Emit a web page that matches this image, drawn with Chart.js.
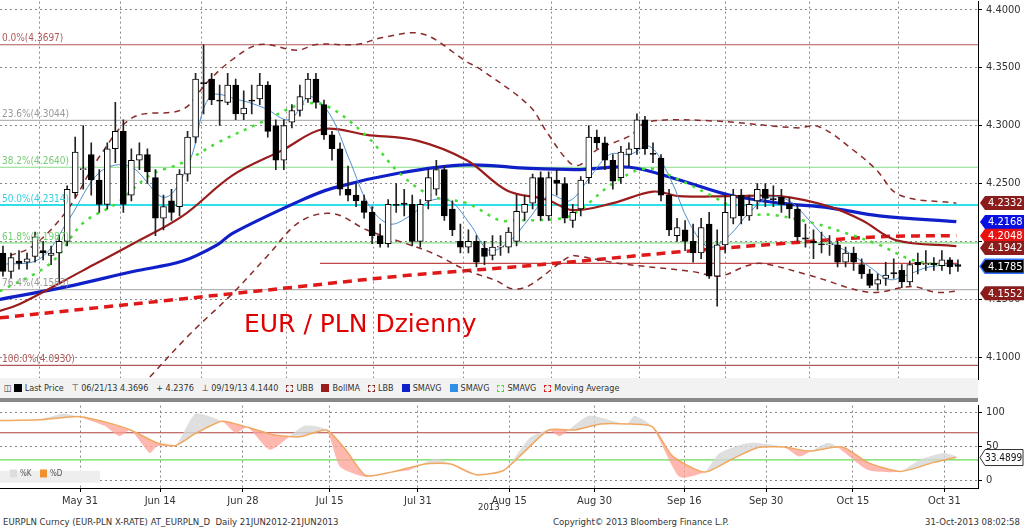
<!DOCTYPE html>
<html><head><meta charset="utf-8">
<script src="https://cdn.jsdelivr.net/npm/chart.js@4.4.1/dist/chart.umd.min.js"></script>
<style>
body{margin:0;background:#fff;font-family:"DejaVu Sans Condensed","DejaVu Sans",sans-serif;width:1024px;height:530px;overflow:hidden;position:relative}
canvas{position:absolute;left:0}
.t{position:absolute;font-size:9.5px;color:#333;white-space:nowrap}
#legend{position:absolute;left:0;top:378px;width:978px;height:20px;background:#f2f2f2;font-size:9px;color:#333;line-height:20px;padding-left:4px;box-sizing:border-box}
#sep{position:absolute;left:0;top:398px;width:978px;height:4px;background:#888}
.sw{display:inline-block;width:8px;height:8px;margin:0 3px 0 8px;vertical-align:-1px}
</style></head><body>
<canvas id="main" width="1024" height="399" style="top:-9px"></canvas>
<div id="legend"></div><div id="sep"></div>
<canvas id="low" width="1024" height="119" style="top:395px"></canvas>
<div class="t" style="left:244px;top:309px;font-size:25px;color:#e00000;font-family:'DejaVu Sans',sans-serif">EUR / PLN Dzienny</div>
<div class="t" style="left:478px;top:501px">2013</div>
<div class="t" style="left:3px;top:516px">EURPLN Curncy (EUR-PLN X-RATE) AT_EURPLN_D&nbsp; Daily 21JUN2012-21JUN2013</div>
<div class="t" style="left:553px;top:516px">Copyright© 2013 Bloomberg Finance L.P.</div>
<div class="t" style="left:925px;top:516px">31-Oct-2013 08:02:58</div>
<script>
// ---- data ----
const opens=[4.190,4.174,4.183,4.182,4.187,4.192,4.188,4.190,4.200,4.242,4.262,4.275,4.253,4.232,4.280,4.295,4.240,4.270,4.275,4.255,4.220,4.235,4.230,4.258,4.290,4.337,4.340,4.322,4.320,4.335,4.310,4.322,4.323,4.335,4.300,4.270,4.303,4.313,4.323,4.340,4.318,4.292,4.280,4.245,4.240,4.235,4.225,4.205,4.198,4.232,4.233,4.232,4.200,4.235,4.245,4.262,4.228,4.200,4.195,4.200,4.194,4.188,4.195,4.195,4.200,4.225,4.233,4.255,4.222,4.253,4.250,4.218,4.228,4.255,4.290,4.285,4.270,4.255,4.275,4.280,4.305,4.276,4.272,4.240,4.205,4.210,4.200,4.190,4.215,4.170,4.197,4.220,4.240,4.222,4.235,4.245,4.237,4.238,4.232,4.228,4.203,4.200,4.198,4.197,4.197,4.182,4.190,4.180,4.172,4.163,4.168,4.173,4.175,4.165,4.182,4.180,4.181,4.179,4.184,4.180];
const closes=[4.174,4.186,4.181,4.185,4.204,4.190,4.190,4.200,4.245,4.277,4.262,4.253,4.232,4.280,4.295,4.232,4.270,4.275,4.260,4.220,4.230,4.225,4.258,4.290,4.340,4.336,4.322,4.321,4.335,4.310,4.315,4.321,4.335,4.295,4.270,4.300,4.313,4.325,4.340,4.320,4.292,4.280,4.245,4.240,4.235,4.225,4.205,4.198,4.232,4.231,4.232,4.200,4.232,4.255,4.262,4.222,4.210,4.195,4.200,4.182,4.187,4.195,4.196,4.208,4.226,4.232,4.255,4.222,4.255,4.250,4.220,4.225,4.253,4.290,4.285,4.270,4.252,4.277,4.280,4.305,4.280,4.275,4.240,4.210,4.212,4.200,4.190,4.212,4.170,4.197,4.225,4.240,4.222,4.232,4.245,4.237,4.236,4.232,4.228,4.204,4.202,4.199,4.197,4.197,4.182,4.190,4.182,4.172,4.162,4.167,4.171,4.172,4.165,4.180,4.180,4.180,4.180,4.184,4.178,4.1785];
const highs=[4.196,4.190,4.192,4.190,4.208,4.200,4.196,4.205,4.248,4.290,4.300,4.285,4.262,4.285,4.320,4.305,4.280,4.285,4.280,4.262,4.240,4.245,4.262,4.295,4.345,4.3697,4.345,4.335,4.345,4.340,4.330,4.335,4.345,4.338,4.305,4.305,4.318,4.335,4.345,4.345,4.322,4.295,4.285,4.265,4.250,4.240,4.230,4.215,4.236,4.250,4.245,4.240,4.236,4.262,4.270,4.265,4.235,4.215,4.210,4.205,4.200,4.205,4.205,4.212,4.240,4.240,4.258,4.260,4.260,4.262,4.255,4.232,4.256,4.300,4.296,4.290,4.275,4.282,4.285,4.310,4.308,4.285,4.275,4.245,4.220,4.218,4.215,4.220,4.225,4.210,4.240,4.245,4.245,4.240,4.250,4.250,4.248,4.245,4.238,4.232,4.215,4.210,4.208,4.205,4.200,4.195,4.195,4.185,4.176,4.172,4.182,4.185,4.180,4.183,4.190,4.192,4.186,4.192,4.186,4.184];
const lows=[4.170,4.168,4.176,4.176,4.182,4.184,4.180,4.165,4.196,4.238,4.245,4.240,4.225,4.228,4.268,4.225,4.235,4.262,4.250,4.205,4.210,4.218,4.222,4.252,4.285,4.310,4.318,4.300,4.318,4.305,4.305,4.310,4.318,4.290,4.262,4.262,4.298,4.308,4.320,4.315,4.288,4.270,4.240,4.235,4.230,4.220,4.198,4.195,4.195,4.225,4.222,4.196,4.195,4.228,4.240,4.218,4.205,4.190,4.190,4.178,4.180,4.184,4.188,4.190,4.196,4.218,4.228,4.218,4.218,4.240,4.216,4.212,4.222,4.250,4.280,4.262,4.245,4.250,4.265,4.275,4.275,4.268,4.235,4.205,4.200,4.192,4.182,4.185,4.168,4.144,4.190,4.215,4.215,4.218,4.228,4.230,4.230,4.225,4.220,4.200,4.195,4.185,4.190,4.188,4.178,4.178,4.175,4.168,4.160,4.158,4.162,4.168,4.160,4.162,4.172,4.175,4.175,4.175,4.172,4.174];
// overlay lines: [index, value]
const smaLong=[[-0.4,4.150],[8,4.161],[16.2,4.174],[22.4,4.183],[26.7,4.197],[28.6,4.207],[37,4.235],[41.1,4.246],[49.4,4.259],[57.8,4.266],[65.6,4.263],[71.9,4.262],[78.1,4.264],[84.3,4.253],[90.5,4.240],[96.8,4.233],[103,4.229],[109.2,4.222],[118.8,4.217]];
const bollMA=[[-0.4,4.140],[2.1,4.146],[10,4.175],[16.2,4.198],[22.4,4.222],[28.6,4.257],[34.9,4.279],[39.9,4.297],[45.3,4.292],[51.6,4.287],[57.8,4.270],[62.8,4.244],[67.8,4.236],[71,4.227],[76,4.233],[81,4.243],[84.3,4.239],[90.5,4.239],[96.8,4.239],[103,4.230],[107.1,4.218],[111.3,4.201],[118.8,4.196]];
const ubb=[[-0.4,4.185],[3.7,4.196],[8,4.227],[12.1,4.274],[16.2,4.307],[22.4,4.314],[25.4,4.337],[28.6,4.357],[32,4.370],[36.6,4.365],[39.1,4.370],[44.1,4.370],[47.3,4.376],[52.3,4.379],[57.8,4.355],[59.4,4.349],[65.6,4.317],[67.8,4.294],[70.6,4.268],[71.9,4.266],[74,4.279],[78.1,4.291],[80.2,4.303],[88.4,4.304],[98.9,4.298],[101.7,4.299],[106.3,4.277],[108.8,4.262],[111.7,4.240],[118.8,4.233]];
const lbb=[[18.3,4.083],[23.3,4.120],[28.6,4.155],[32.9,4.187],[37,4.217],[41.1,4.224],[45.3,4.210],[49.4,4.200],[53.5,4.190],[57.8,4.175],[61.5,4.166],[63.5,4.159],[65.6,4.162],[70.6,4.187],[71.9,4.187],[76.8,4.181],[85.9,4.174],[89.3,4.170],[92.7,4.179],[94.6,4.181],[100.9,4.170],[108,4.156],[113.3,4.161],[116.3,4.156],[118.8,4.157]];
const maRed=[[-0.4,4.134],[20.4,4.149],[37,4.161],[49.4,4.170],[61.9,4.177],[71.9,4.183],[84.3,4.191],[96.8,4.198],[109.2,4.204],[118.8,4.205]];
const smaGreen=[[-0.4,4.157],[5.9,4.181],[10,4.216],[14.2,4.233],[18.3,4.257],[22.4,4.268],[26.7,4.285],[32.9,4.305],[37,4.318],[40.3,4.317],[45.3,4.291],[49.4,4.259],[53.5,4.239],[57.8,4.233],[61.9,4.218],[63.5,4.218],[69.7,4.220],[71.9,4.227],[76,4.250],[80.2,4.263],[84.3,4.253],[88.4,4.239],[92.7,4.224],[95.9,4.223],[100.9,4.216],[105.1,4.207],[109.2,4.197],[113.3,4.184],[118.8,4.178]];
const smaShort=[[-0.4,4.18],[4.6,4.185],[8.3,4.22],[12.1,4.26],[15.8,4.265],[20.2,4.238],[23.3,4.27],[25.8,4.325],[29.5,4.322],[32.6,4.315],[35.7,4.305],[38.2,4.325],[40.7,4.31],[43.2,4.27],[45.7,4.23],[48.2,4.215],[50.7,4.222],[53.2,4.235],[55.7,4.235],[58.2,4.215],[60.6,4.192],[63.1,4.2],[65.6,4.22],[68.1,4.24],[70.6,4.235],[73.1,4.255],[75.6,4.275],[78.1,4.275],[80.6,4.282],[83.1,4.255],[85.6,4.215],[88,4.195],[90.5,4.205],[93,4.225],[95.5,4.238],[98,4.235],[100.5,4.218],[103,4.2],[105.5,4.19],[108,4.178],[110.5,4.167],[113,4.172],[115.4,4.178],[118.8,4.18]];
const stochD=[[-0.4,88],[4.5,89],[9.3,94],[12.7,86],[15.9,74],[19.2,55],[21.5,51],[24,69],[27.3,87],[30.5,78],[33.7,67],[37,64],[40.3,74],[42.7,45],[45.2,7],[48.4,12],[52.6,24],[55.8,24],[59,8],[62.3,14],[64.8,40],[68,74],[71.2,74],[74.5,83],[77.7,83],[80.9,79],[83.4,36],[87.4,12],[90.8,31],[94,48],[97.3,49],[100.5,43],[104.6,49],[107.8,26],[111.8,13],[115.9,26],[118.8,34]];
const stochK=[[-0.4,88],[4.5,90],[7.5,98],[9.3,94],[12.7,80],[14.5,65],[15.9,74],[18.3,40],[19.2,50],[21.5,51],[24,98],[27.3,87],[29,70],[30.5,78],[33.3,45],[37.5,80],[40.3,74],[42,20],[45.2,5],[48.4,12],[50.7,15],[53.8,32],[55.8,24],[58.2,10],[62.3,14],[65.6,62],[68,74],[69.4,65],[73,95],[77.7,83],[78.7,95],[80.9,79],[84.3,5],[87.4,12],[89.3,40],[93,55],[97.3,49],[99.3,35],[103,55],[107.8,15],[111.8,13],[114.2,30],[117.3,40],[118.8,35]];
const fibLevels=[4.3697,4.3044,4.2640,4.2314,4.1987,4.1583,4.0930];
const fibNames=["0.0%","23.6%","38.2%","50.0%","61.8%","76.4%","100.0%"];
const lastPriceLine=4.181;
const boxValues=[4.2332,4.2168,4.2048,4.1942,4.1785,4.1552];
const priceTicks=[4.10,4.15,4.20,4.25,4.30,4.35,4.40];
const dateTickIdx=[9.6,19.6,29.9,40.7,51.7,63.1,73.7,84.9,95.1,105.9,117.3];
const dateLabels=["May 31","Jun 14","Jun 28","Jul 15","Jul 31","Aug 15","Aug 30","Sep 16","Sep 30","Oct 15","Oct 31"];
const stochTicks=[0,50,100];
const stochLast=33.4899;

// ---- styles ----
const FONT='"DejaVu Sans Condensed","DejaVu Sans",sans-serif';
const fibColors=['#b05858','#b4b4b4','#88dd88','#30e0e8','#88dd88','#b4b4b4','#b05858'];
const fibLabelColors=['#b05858','#999','#77cc77','#30d0e0','#77cc77','#999','#b05858'];
const boxColors=['#8b1c1c','#0a10e0','#e81010','#8b1c1c','#000','#8b1c1c'];
const pts=a=>a.map(p=>({x:p[0],y:p[1]}));
const XMIN=-0.37,XMAX=121.5;
const n=opens.length;
const idx=[...Array(n).keys()];
const GRID='#888';

const candlesBody={type:'bar',data:idx.map(i=>({x:i,y:[opens[i],closes[i]]})),
 backgroundColor:idx.map(i=>closes[i]>=opens[i]?'#fff':'#000'),borderColor:'#000',borderWidth:1,
 borderSkipped:false,barThickness:6,grouped:false,minBarLength:1,order:1};
const candlesWick={type:'bar',data:idx.map(i=>({x:i,y:[lows[i],highs[i]]})),
 backgroundColor:'#222',barThickness:1,grouped:false,order:2};
const ln=(data,color,w,dash,order)=>({type:'line',data:pts(data),borderColor:color,borderWidth:w,borderDash:dash||[],pointRadius:0,tension:0.35,fill:false,order:order});

const fibSets=fibLevels.map((v,k)=>({type:'line',data:[{x:XMIN,y:v},{x:XMAX,y:v}],borderColor:fibColors[k],borderWidth:k===3?2:1.2,pointRadius:0,order:10}));
const lastLine={type:'line',data:[{x:39.5,y:lastPriceLine},{x:119,y:lastPriceLine}],borderColor:'#c04848',borderWidth:1.2,pointRadius:0,order:9};

const overlay={id:'ov',afterDraw(c){
 const ctx=c.ctx,y=c.scales.y;
 ctx.save();ctx.font='10px '+FONT;ctx.textBaseline='bottom';
 fibLevels.forEach((v,k)=>{ctx.fillStyle=fibLabelColors[k];ctx.fillText(fibNames[k]+'('+v.toFixed(4)+')',2,y.getPixelForValue(v)-1);});
 ctx.textBaseline='middle';ctx.font='11px '+FONT;
 boxValues.forEach((v,k)=>{const py=y.getPixelForValue(v);const x0=c.chartArea.right+2;
  ctx.fillStyle=boxColors[k];ctx.beginPath();ctx.moveTo(x0,py);ctx.lineTo(x0+5,py-7);ctx.lineTo(1024,py-7);ctx.lineTo(1024,py+7);ctx.lineTo(x0+5,py+7);ctx.closePath();ctx.fill();
  if(k===4){ctx.strokeStyle='#3070ff';ctx.lineWidth=1.5;ctx.stroke();}
  ctx.fillStyle='#fff';ctx.fillText(v.toFixed(4),x0+8,py+0.5);});
 ctx.restore();}};

new Chart(document.getElementById('main'),{data:{datasets:[
 ...fibSets,lastLine,
 ln(maRed,'#e01818',3.5,[9,6],5),
 ln(lbb,'#8b2a2a',1.5,[6,5],4),
 ln(ubb,'#8b2a2a',1.5,[6,5],4),
 ln(bollMA,'#9b1c1c',2.2,null,4),
 ln(smaLong,'#1020c8',3.2,null,4),
 ln(smaGreen,'#44dd33',2.5,[3,6],3),
 ln(smaShort,'#5090d0',1,null,3),
 candlesWick,candlesBody]},
 options:{responsive:false,animation:false,devicePixelRatio:1,events:[],
  layout:{padding:0},
  plugins:{legend:{display:false},tooltip:{enabled:false}},
  scales:{
   x:{type:'linear',min:XMIN,max:XMAX,offset:false,
    afterBuildTicks:s=>{s.ticks=dateTickIdx.map(v=>({value:v}));},
    ticks:{display:false},grid:{color:GRID,drawTicks:false,tickLength:0},border:{display:false,dash:[2,3]},
    afterFit:s=>{s.height=0;}},
   y:{position:'right',min:4.0809,max:4.40696,
    afterBuildTicks:s=>{s.ticks=priceTicks.map(v=>({value:v}));},
    ticks:{callback:v=>v.toFixed(4),color:'#333',font:{size:11,family:FONT},padding:4},
    grid:{color:GRID,tickLength:4,tickColor:'#000'},border:{color:'#000',dash:[2,3]},
    afterFit:s=>{s.width=46;}}}},
 plugins:[overlay]});

// legend
const L=document.getElementById('legend');
L.innerHTML='<span style="font-weight:bold">&#9707;</span><span class="sw" style="background:#000;margin-left:2px"></span>Last Price &nbsp; &#8868; 06/21/13 4.3696 &nbsp; + 4.2376 &nbsp; &#8869; 09/19/13 4.1440'+
 '<span class="sw" style="border:1.5px dashed #8b2a2a;width:5px;height:5px"></span>UBB'+
 '<span class="sw" style="background:#9b1c1c"></span>BollMA'+
 '<span class="sw" style="border:1.5px dashed #8b2a2a;width:5px;height:5px"></span>LBB'+
 '<span class="sw" style="background:#1020c8"></span>SMAVG'+
 '<span class="sw" style="background:#3090e8"></span>SMAVG'+
 '<span class="sw" style="border:1.5px dashed #44dd33;width:5px;height:5px"></span>SMAVG'+
 '<span class="sw" style="border:1.5px dashed #e01818;width:5px;height:5px"></span>Moving Average';

const lowOverlay={id:'lo',afterDraw(c){
 const ctx=c.ctx,y=c.scales.y,py=y.getPixelForValue(stochLast),x0=c.chartArea.right+2;
 ctx.save();ctx.fillStyle='#fff';ctx.strokeStyle='#333';ctx.lineWidth=1;
 ctx.beginPath();ctx.moveTo(x0,py);ctx.lineTo(x0+5,py-8);ctx.lineTo(1023,py-8);ctx.lineTo(1023,py+8);ctx.lineTo(x0+5,py+8);ctx.closePath();ctx.fill();ctx.stroke();
 ctx.fillStyle='#111';ctx.font='10px '+FONT;ctx.textBaseline='middle';ctx.fillText(stochLast.toFixed(4),x0+5,py+0.5);
 const a=c.chartArea;ctx.font='8px '+FONT;
 ctx.fillStyle='#eee';ctx.fillRect(a.left,y.getPixelForValue(14),100,12);
 ctx.fillStyle='#ddd';ctx.fillRect(a.left+10,y.getPixelForValue(10)-4,7,8);ctx.fillStyle='#555';ctx.fillText('%K',a.left+20,y.getPixelForValue(10));
 ctx.fillStyle='#f09030';ctx.fillRect(a.left+40,y.getPixelForValue(10)-4,7,8);ctx.fillStyle='#555';ctx.fillText('%D',a.left+50,y.getPixelForValue(10));
 ctx.restore();}};

new Chart(document.getElementById('low'),{data:{datasets:[
 {type:'line',data:pts(stochD),borderColor:'#f0a860',borderWidth:1.5,pointRadius:0,tension:0.2,fill:false,order:1},
 {type:'line',data:pts(stochK),borderColor:'rgba(0,0,0,0)',borderWidth:0,pointRadius:0,tension:0.2,order:2,
  fill:{target:0,above:'rgba(215,215,215,0.8)',below:'rgba(255,160,150,0.75)'}},
 {type:'line',data:[{x:XMIN,y:70},{x:XMAX,y:70}],borderColor:'#b04040',borderWidth:1.2,pointRadius:0,order:3},
 {type:'line',data:[{x:XMIN,y:30},{x:XMAX,y:30}],borderColor:'#66dd55',borderWidth:1.2,pointRadius:0,order:3}]},
 options:{responsive:false,animation:false,devicePixelRatio:1,events:[],layout:{padding:0},
  plugins:{legend:{display:false},tooltip:{enabled:false}},
  scales:{
   x:{type:'linear',min:XMIN,max:XMAX,
    afterBuildTicks:s=>{s.ticks=dateTickIdx.map(v=>({value:v}));},
    ticks:{callback:(v)=>{const k=dateTickIdx.indexOf(v);return k>=0?dateLabels[k]:'';},autoSkip:false,maxRotation:0,color:'#333',font:{size:11,family:FONT},padding:3},
    grid:{color:GRID,tickLength:4,tickColor:'#000'},border:{color:'#000',dash:[2,3]},
    afterFit:s=>{s.height=26;}},
   y:{position:'right',min:-11.4,max:110,
    afterBuildTicks:s=>{s.ticks=stochTicks.map(v=>({value:v}));},
    ticks:{color:'#333',font:{size:11,family:FONT},padding:4},
    grid:{color:GRID,tickLength:4,tickColor:'#000'},border:{color:'#000',dash:[2,3]},
    afterFit:s=>{s.width=46;}}}},
 plugins:[lowOverlay]});
</script></body></html>
